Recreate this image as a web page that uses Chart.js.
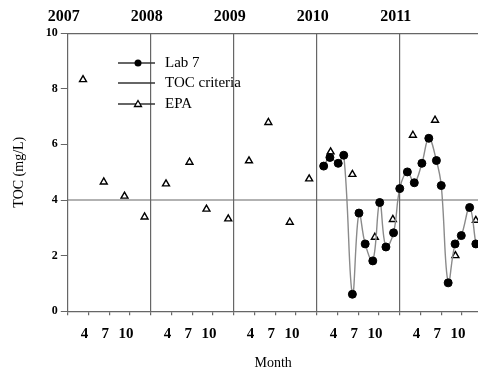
<!DOCTYPE html>
<html lang="en">
<head>
    <meta charset="UTF-8">
    <title>TOC by month</title>
    <script src="https://cdn.jsdelivr.net/npm/chart.js"></script>
    <style>
        body { margin: 0; background: #fff; }
        #wrap { width: 478px; height: 372px; overflow: hidden; }
    </style>
</head>
<body>
    <div id="wrap"><canvas id="tocChart" width="484" height="372"></canvas></div>

    <script>
        // x = months counted from the start of 2007
        const years = ['2007', '2008', '2009', '2010', '2011'];
        const monthTicks = [0, 3, 6, 9, 12, 15, 18, 21, 24, 27, 30, 33, 36, 39, 42, 45, 48, 51, 54, 57];

        const labMonths = [37, 37.9, 39.1, 39.9, 41.15, 42.1, 43, 44.1, 45.1, 46, 47.1, 48, 49.1, 50.1, 51.2, 52.2, 53.3, 54, 55, 56, 56.9, 58.1, 59];
        const labToc = [5.22, 5.53, 5.32, 5.61, 0.61, 3.53, 2.42, 1.81, 3.91, 2.31, 2.82, 4.41, 5.01, 4.62, 5.32, 6.22, 5.42, 4.52, 1.02, 2.42, 2.72, 3.73, 2.42];

        const epaMonths = [2.2, 5.2, 8.2, 11.1, 14.2, 17.6, 20.05, 23.2, 26.2, 29, 32.1, 34.9, 38, 41.15, 44.4, 47, 49.9, 53.1, 56.05, 59];
        const epaToc = [8.33, 4.65, 4.14, 3.39, 4.58, 5.36, 3.67, 3.32, 5.41, 6.79, 3.2, 4.76, 5.73, 4.92, 2.66, 3.3, 6.33, 6.87, 2.0, 3.27];

        const criteria = 4;
        const xMax = 59.4;

        const serif = '"Liberation Serif", "DejaVu Serif", serif';

        const pairs = (xs, ys) => xs.map((x, i) => ({ x: x, y: ys[i] }));

        // legend drawn inside the plot, upper left
        const innerLegend = {
            id: 'innerLegend',
            afterDraw(chart) {
                const ctx = chart.ctx;
                const x0 = 118, x1 = 155, tx = 165;
                const rows = [63, 83, 104];
                ctx.save();
                ctx.font = '15px ' + serif;
                ctx.textBaseline = 'middle';
                chart.data.datasets.forEach((ds, i) => {
                    const y = rows[i];
                    ctx.strokeStyle = '#333';
                    ctx.lineWidth = 1.3;
                    ctx.beginPath();
                    ctx.moveTo(x0, y);
                    ctx.lineTo(x1, y);
                    ctx.stroke();
                    if (ds.legendMarker === 'circle') {
                        ctx.fillStyle = '#000';
                        ctx.beginPath();
                        ctx.arc(138, y, 3.5, 0, Math.PI * 2);
                        ctx.fill();
                    } else if (ds.legendMarker === 'triangle') {
                        ctx.fillStyle = '#fff';
                        ctx.strokeStyle = '#000';
                        ctx.lineWidth = 1.3;
                        ctx.beginPath();
                        ctx.moveTo(138, y - 3.5);
                        ctx.lineTo(141.5, y + 2.5);
                        ctx.lineTo(134.5, y + 2.5);
                        ctx.closePath();
                        ctx.fill();
                        ctx.stroke();
                    }
                    ctx.fillStyle = '#000';
                    ctx.fillText(ds.label, tx, y);
                });
                ctx.restore();
            }
        };

        new Chart(document.getElementById('tocChart'), {
            type: 'scatter',
            data: {
                datasets: [{
                    label: 'Lab 7',
                    legendMarker: 'circle',
                    data: pairs(labMonths, labToc),
                    showLine: true,
                    tension: 0.4,
                    borderColor: '#8a8a8a',
                    borderWidth: 1.4,
                    pointRadius: 4,
                    pointBackgroundColor: '#000',
                    pointBorderColor: '#000',
                    pointBorderWidth: 1,
                    order: 1
                }, {
                    label: 'TOC criteria',
                    legendMarker: 'none',
                    data: [{ x: 0, y: criteria }, { x: xMax, y: criteria }],
                    showLine: true,
                    borderColor: '#666',
                    borderWidth: 1.2,
                    pointRadius: 0,
                    order: 3
                }, {
                    label: 'EPA',
                    legendMarker: 'triangle',
                    data: pairs(epaMonths, epaToc),
                    showLine: false,
                    pointStyle: 'triangle',
                    pointRadius: 4,
                    pointBackgroundColor: '#fff',
                    pointBorderColor: '#000',
                    pointBorderWidth: 1.4,
                    order: 2
                }]
            },
            options: {
                responsive: false,
                animation: false,
                layout: { padding: { left: 11, right: 0, top: 0, bottom: 0 } },
                plugins: { legend: { display: false }, tooltip: { enabled: false } },
                scales: {
                    x: {
                        type: 'linear',
                        position: 'bottom',
                        min: 0,
                        max: xMax,
                        afterBuildTicks: axis => { axis.ticks = monthTicks.map(v => ({ value: v })); },
                        ticks: {
                            autoSkip: false,
                            maxRotation: 0,
                            padding: 10,
                            labelOffset: -4,
                            color: '#000',
                            font: { family: serif, size: 15, weight: 'bold' },
                            callback: v => (v % 12 === 0 ? '' : String(v % 12 + 1))
                        },
                        grid: {
                            color: c => (c.tick && c.tick.value % 12 === 0 && c.tick.value > 0 ? '#666' : 'rgba(0,0,0,0)'),
                            tickColor: '#666',
                            tickLength: 4,
                            lineWidth: 1.2
                        },
                        border: { color: '#666', width: 1.2 },
                        title: {
                            display: true,
                            text: 'Month',
                            color: '#000',
                            padding: { top: 2, bottom: 0 },
                            font: { family: serif, size: 14 }
                        }
                    },
                    xTop: {
                        type: 'linear',
                        position: 'top',
                        min: 0,
                        max: xMax,
                        afterBuildTicks: axis => { axis.ticks = years.map((y, i) => ({ value: i * 12 })); },
                        ticks: {
                            autoSkip: false,
                            maxRotation: 0,
                            padding: 7,
                            labelOffset: -4,
                            color: '#000',
                            font: { family: serif, size: 16, weight: 'bold' },
                            callback: (v, i) => years[i]
                        },
                        grid: { drawOnChartArea: false, drawTicks: false },
                        border: { color: '#666', width: 1.2 }
                    },
                    y: {
                        min: 0,
                        max: 10,
                        ticks: {
                            stepSize: 2,
                            padding: 3,
                            color: '#000',
                            font: { family: serif, size: 12, weight: 'bold' }
                        },
                        grid: { drawOnChartArea: false, tickColor: '#666', tickLength: 7 },
                        border: { color: '#666', width: 1.2 },
                        title: {
                            display: true,
                            text: 'TOC (mg/L)',
                            color: '#000',
                            padding: { top: 0, bottom: 15 },
                            font: { family: serif, size: 14 }
                        }
                    }
                }
            },
            plugins: [innerLegend]
        });
    </script>
</body>
</html>
